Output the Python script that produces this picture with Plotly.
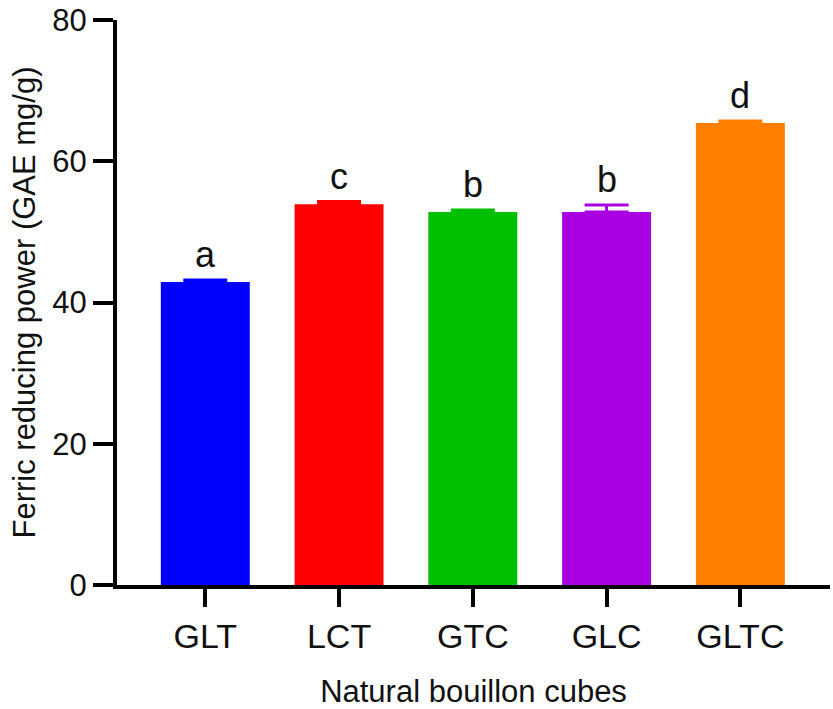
import plotly.graph_objects as go

categories = ["GLT", "LCT", "GTC", "GLC", "GLTC"]
values = [42.9, 53.9, 52.8, 52.8, 65.4]
errors = [0.3, 0.4, 0.3, 1.0, 0.3]
letters = ["a", "c", "b", "b", "d"]
colors = ["#0000FF", "#FF0000", "#00C000", "#A800E0", "#FF8000"]
y_ticks = [0, 20, 40, 60, 80]

FONT = "Liberation Sans, Arial, sans-serif"

fig = go.Figure()
for cat, val, err, col in zip(categories, values, errors, colors):
    fig.add_trace(go.Bar(
        x=[cat], y=[val], marker=dict(color=col, line=dict(width=0)),
        error_y=dict(type="data", array=[err], arrayminus=[0], symmetric=False,
                     color=col, thickness=3, width=22),
        showlegend=False,
    ))

for cat, val, err, let in zip(categories, values, errors, letters):
    fig.add_annotation(x=cat, y=val + err, text=let, showarrow=False,
                       yanchor="bottom", yshift=3,
                       font=dict(family=FONT, size=36, color="#111111"))

fig.update_layout(
    width=833, height=709,
    margin=dict(l=117, r=3, t=16, b=119),
    paper_bgcolor="white", plot_bgcolor="white",
    bargap=0.335,
    font=dict(family=FONT, color="#111111"),
)
fig.update_xaxes(
    type="category", categoryorder="array", categoryarray=categories,
    range=[-0.66, 4.67],
    showline=True, linewidth=4, linecolor="black",
    ticks="outside", ticklen=18, tickwidth=4, tickcolor="black",
    showgrid=False, zeroline=False,
    tickfont=dict(family=FONT, size=34, color="#111111"),
    title=dict(text="Natural bouillon cubes", font=dict(family=FONT, size=31, color="#111111"), standoff=30),
)
fig.update_yaxes(
    range=[0, 80], tickvals=y_ticks,
    showline=True, linewidth=4, linecolor="black",
    ticks="outside", ticklen=20, tickwidth=4, tickcolor="black",
    showgrid=False, zeroline=False, ticklabeloverflow="allow",
    tickfont=dict(family=FONT, size=31, color="#111111"),
    title=dict(text="Ferric reducing power (GAE mg/g)", font=dict(family=FONT, size=31, color="#111111"), standoff=8),
)

fig.write_html("out.html")
